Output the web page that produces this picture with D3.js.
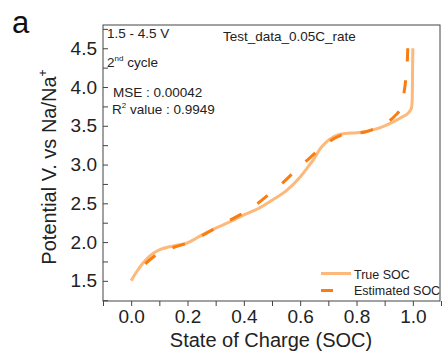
<!DOCTYPE html>
<html>
<head>
<meta charset="utf-8">
<script src="https://cdn.jsdelivr.net/npm/d3@7"></script>
<style>
  body { margin: 0; background: #fff; }
  svg { display: block; font-family: "Liberation Sans", Arial, sans-serif; }
</style>
</head>
<body>
<svg id="chart" width="443" height="356"></svg>
<script>
// SOC (x) vs potential (V)
const trueSoc = [0, 0.02, 0.04, 0.06, 0.08, 0.1, 0.15, 0.2, 0.25, 0.3, 0.35, 0.4, 0.45, 0.5, 0.55, 0.6, 0.63, 0.65, 0.67, 0.69, 0.72, 0.76, 0.8, 0.84, 0.87, 0.9, 0.93, 0.96, 0.985, 0.995, 0.998, 0.999, 1.0];
const trueV = [1.5, 1.62, 1.72, 1.8, 1.86, 1.9, 1.95, 1.99, 2.09, 2.18, 2.26, 2.35, 2.43, 2.54, 2.66, 2.84, 2.98, 3.08, 3.2, 3.28, 3.36, 3.4, 3.41, 3.43, 3.46, 3.5, 3.55, 3.61, 3.67, 3.73, 3.85, 4.2, 4.5];

const estSoc = [0.05, 0.08, 0.1, 0.15, 0.2, 0.25, 0.3, 0.35, 0.4, 0.45, 0.5, 0.54, 0.58, 0.62, 0.66, 0.7, 0.74, 0.78, 0.83, 0.87, 0.91, 0.94, 0.955, 0.966, 0.975, 0.98, 0.982];
const estV = [1.72, 1.81, 1.86, 1.93, 1.99, 2.08, 2.18, 2.28, 2.38, 2.5, 2.65, 2.77, 2.91, 3.04, 3.17, 3.29, 3.37, 3.4, 3.42, 3.47, 3.55, 3.64, 3.72, 3.87, 4.1, 4.3, 4.5];

const xTicks = [0, 0.2, 0.4, 0.6, 0.8, 1.0];
const xMinorTicks = [-0.1, 0.1, 0.3, 0.5, 0.7, 0.9, 1.1];
const yTicks = [1.5, 2.0, 2.5, 3.0, 3.5, 4.0, 4.5];
const yMinorTicks = [1.25, 1.75, 2.25, 2.75, 3.25, 3.75, 4.25, 4.75];

const width = 443;
const height = 356;
const marginTop = 25;
const marginRight = 2;
const marginBottom = 55;
const marginLeft = 103;

const trueColor = "#fdb97b";
const estColor = "#f97d10";
const textColor = "#222";
const axisColor = "#444";

const svg = d3.select("#chart");

const x = d3.scaleLinear()
  .domain([-0.1, 1.1])
  .range([marginLeft, width - marginRight]);

const y = d3.scaleLinear()
  .domain([1.24, 4.8])
  .range([height - marginBottom, marginTop]);

const trueData = trueSoc.map((s, i) => ({ soc: s, v: trueV[i] }));
const estData = estSoc.map((s, i) => ({ soc: s, v: estV[i] }));

const line = d3.line()
  .x((d) => x(d.soc))
  .y((d) => y(d.v))
  .curve(d3.curveMonotoneX);

// x axis, ticks pointing out
svg.append("g")
  .attr("transform", `translate(0,${height - marginBottom})`)
  .call(d3.axisBottom(x).tickValues(xTicks).tickSize(5).tickPadding(4).tickFormat(d3.format(".1f")));
svg.append("g")
  .attr("transform", `translate(0,${height - marginBottom})`)
  .call(d3.axisBottom(x).tickValues(xMinorTicks).tickSize(5).tickFormat(""));

// y axis, ticks pointing in
svg.append("g")
  .attr("transform", `translate(${marginLeft},0)`)
  .call(d3.axisLeft(y).tickValues(yTicks).tickSize(-5).tickPadding(6).tickFormat(d3.format(".1f")));
svg.append("g")
  .attr("transform", `translate(${marginLeft},0)`)
  .call(d3.axisLeft(y).tickValues(yMinorTicks).tickSize(-5).tickFormat(""));

svg.selectAll(".domain").remove();
svg.selectAll(".tick line").attr("stroke", axisColor);
svg.selectAll(".tick text")
  .attr("fill", textColor)
  .style("font-size", "19px");

// plot frame
svg.append("rect")
  .attr("x", marginLeft)
  .attr("y", marginTop)
  .attr("width", width - marginLeft - marginRight - 1)
  .attr("height", height - marginTop - marginBottom)
  .attr("fill", "none")
  .attr("stroke", axisColor)
  .attr("stroke-width", 1);

// curves
svg.append("path")
  .datum(trueData)
  .attr("fill", "none")
  .attr("stroke", trueColor)
  .attr("stroke-width", 3)
  .attr("stroke-linejoin", "round")
  .attr("d", line);

svg.append("path")
  .datum(estData)
  .attr("fill", "none")
  .attr("stroke", estColor)
  .attr("stroke-width", 3)
  .attr("stroke-dasharray", "13,19")
  .attr("d", line);

// axis titles
svg.append("text")
  .attr("x", 271)
  .attr("y", 347)
  .attr("text-anchor", "middle")
  .attr("fill", textColor)
  .style("font-size", "20px")
  .text("State of Charge (SOC)");

const yTitle = svg.append("text")
  .attr("transform", "rotate(-90)")
  .attr("x", -167)
  .attr("y", 56)
  .attr("text-anchor", "middle")
  .attr("fill", textColor)
  .style("font-size", "20px");
yTitle.append("tspan").text("Potential V. vs Na/Na");
yTitle.append("tspan").attr("dy", -9).style("font-size", "12px").text("+");

// panel letter
svg.append("text")
  .attr("x", 12)
  .attr("y", 33)
  .attr("fill", "#111")
  .style("font-size", "31px")
  .text("a");

// annotations
const note = svg.append("g")
  .attr("fill", textColor)
  .style("font-size", "13.5px");

note.append("text").attr("x", 107).attr("y", 38).text("1.5 - 4.5 V");

const cycle = note.append("text").attr("x", 107).attr("y", 66.5);
cycle.append("tspan").text("2");
cycle.append("tspan").attr("dy", -6).style("font-size", "8px").text("nd");
cycle.append("tspan").attr("dy", 6).text(" cycle");

note.append("text").attr("x", 113).attr("y", 97).text("MSE : 0.00042");

const r2 = note.append("text").attr("x", 112).attr("y", 114);
r2.append("tspan").text("R");
r2.append("tspan").attr("dy", -6).style("font-size", "8px").text("2");
r2.append("tspan").attr("dy", 6).text(" value : 0.9949");

note.append("text").attr("x", 223).attr("y", 41).text("Test_data_0.05C_rate");

// legend
const legend = svg.append("g");

legend.append("line")
  .attr("x1", 321).attr("x2", 351)
  .attr("y1", 273.5).attr("y2", 273.5)
  .attr("stroke", trueColor)
  .attr("stroke-width", 3);

legend.append("text")
  .attr("x", 354).attr("y", 278.5)
  .attr("fill", textColor)
  .style("font-size", "12.5px")
  .text("True SOC");

legend.append("line")
  .attr("x1", 321).attr("x2", 351)
  .attr("y1", 290.5).attr("y2", 290.5)
  .attr("stroke", estColor)
  .attr("stroke-width", 3)
  .attr("stroke-dasharray", "12,19");

legend.append("text")
  .attr("x", 354).attr("y", 295)
  .attr("fill", textColor)
  .style("font-size", "12.5px")
  .text("Estimated SOC");
</script>
</body>
</html>
